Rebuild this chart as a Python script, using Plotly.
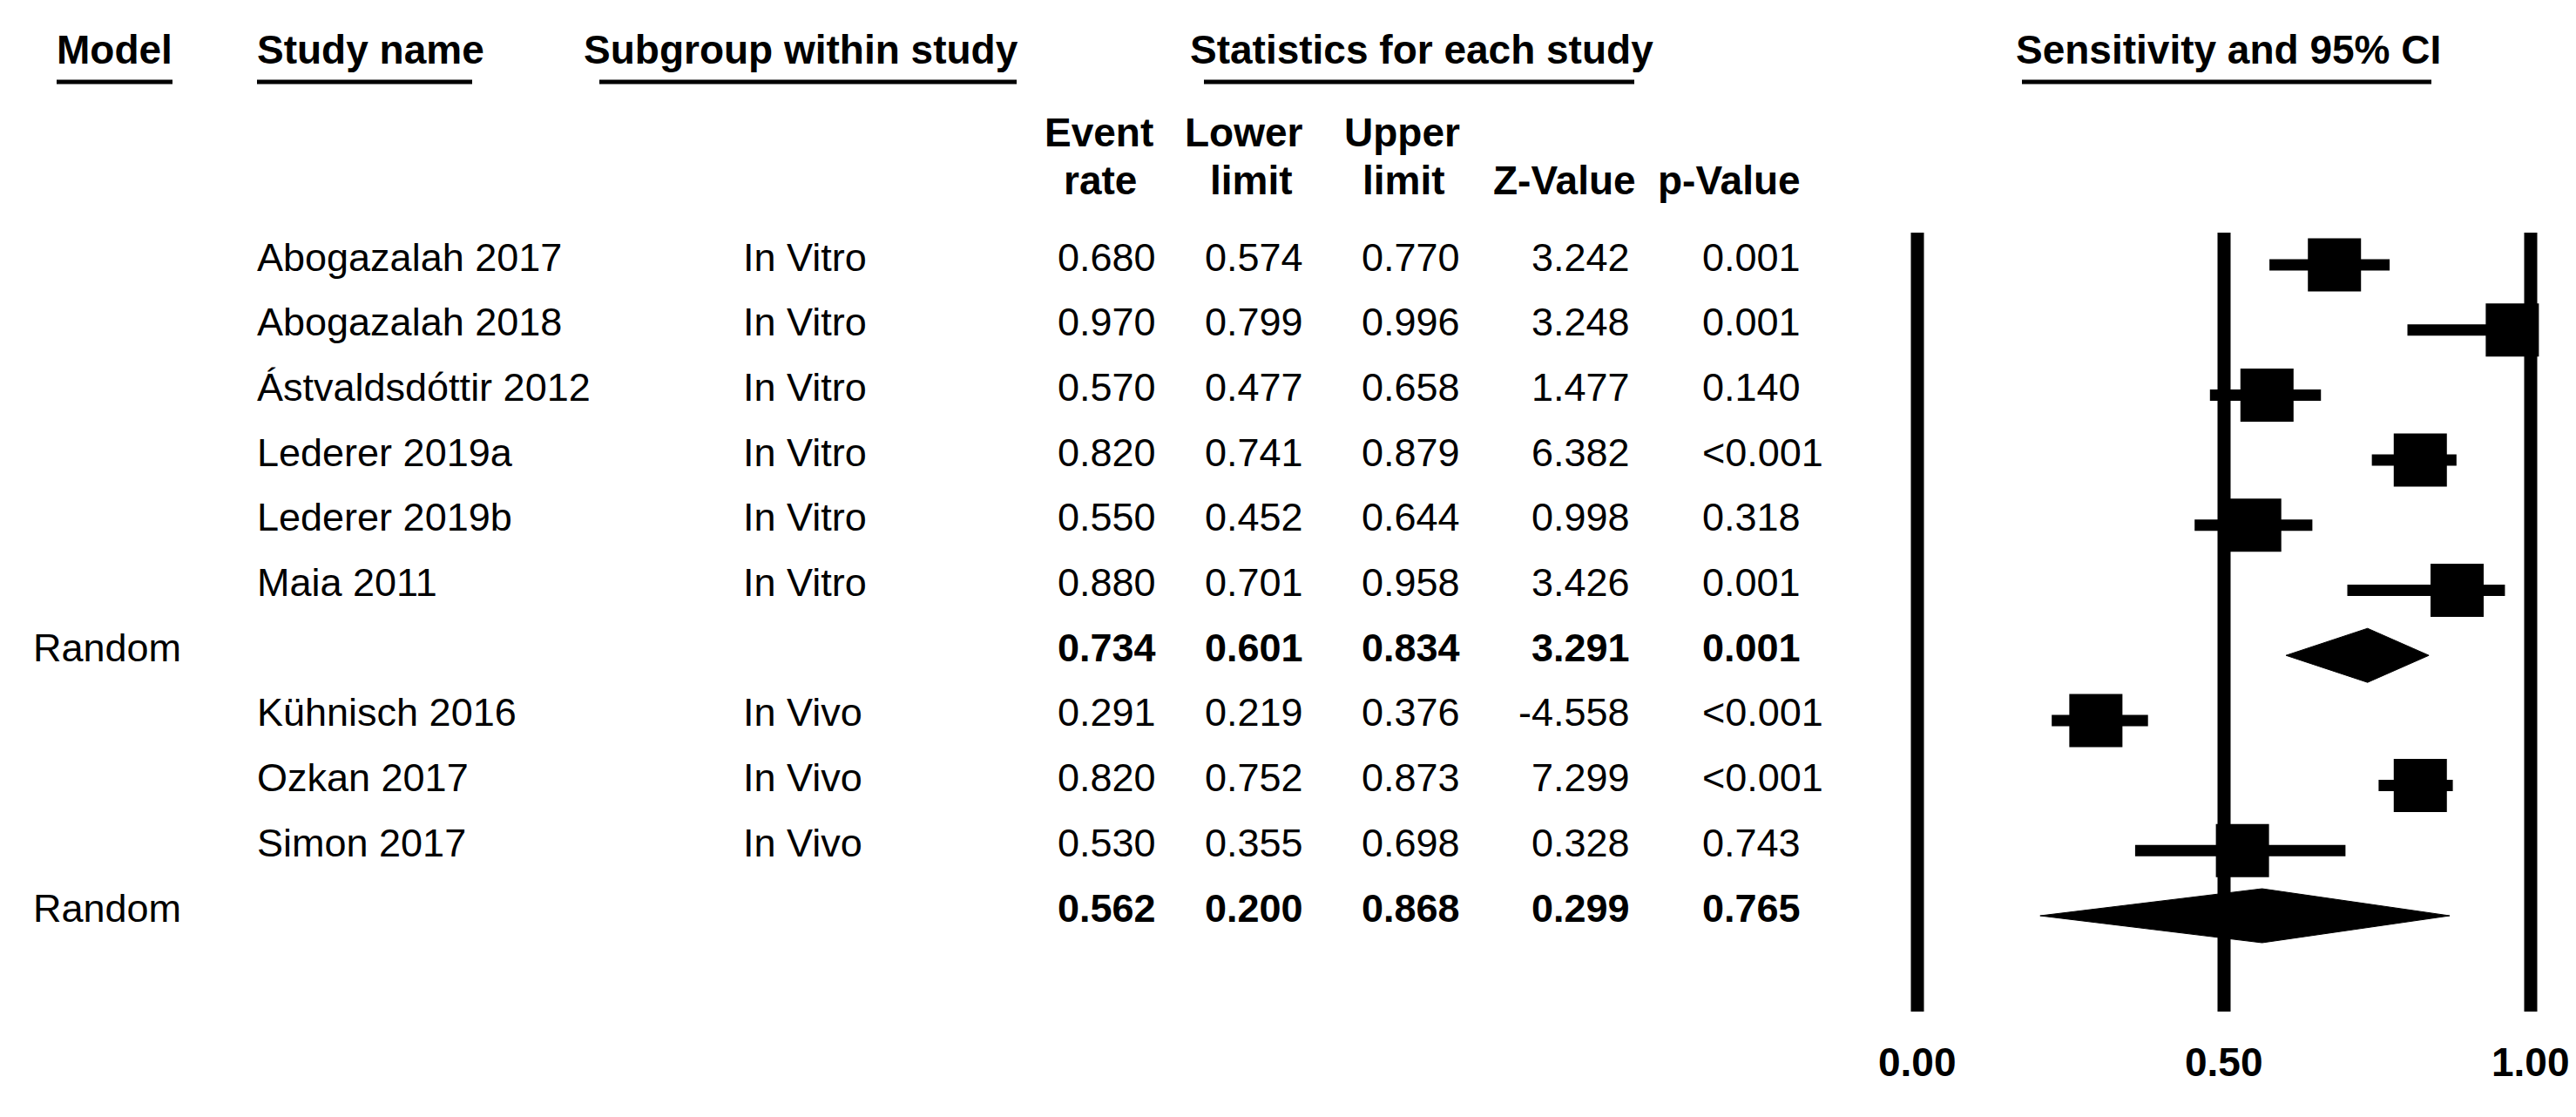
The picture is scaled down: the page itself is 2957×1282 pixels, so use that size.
import plotly.graph_objects as go

# ---------------- data ----------------
study_names = ["Abogazalah 2017", "Abogazalah 2018", "Ástvaldsdóttir 2012", "Lederer 2019a",
               "Lederer 2019b", "Maia 2011", "Kühnisch 2016", "Ozkan 2017", "Simon 2017"]
subgroups = ["In Vitro", "In Vitro", "In Vitro", "In Vitro", "In Vitro", "In Vitro",
             "In Vivo", "In Vivo", "In Vivo"]
study_rows = [0, 1, 2, 3, 4, 5, 7, 8, 9]
event_rate = [0.680, 0.970, 0.570, 0.820, 0.550, 0.880, 0.291, 0.820, 0.530]
lower_limit = [0.574, 0.799, 0.477, 0.741, 0.452, 0.701, 0.219, 0.752, 0.355]
upper_limit = [0.770, 0.996, 0.658, 0.879, 0.644, 0.958, 0.376, 0.873, 0.698]
z_value = [3.242, 3.248, 1.477, 6.382, 0.998, 3.426, -4.558, 7.299, 0.328]
p_value = ["0.001", "0.001", "0.140", "<0.001", "0.318", "0.001", "<0.001", "<0.001", "0.743"]

summary_model = ["Random", "Random"]
summary_rows = [6, 10]
summary_rate = [0.734, 0.562]
summary_lower = [0.601, 0.200]
summary_upper = [0.834, 0.868]
summary_z = [3.291, 0.299]
summary_p = ["0.001", "0.765"]

tick_vals = [0.0, 0.5, 1.0]

# ---------------- layout constants ----------------
W, H = 2957, 1282
ROW0_PX, ROW_STEP = 296, 74.7
FONT = "Arial, Liberation Sans, sans-serif"
FS = 45
X0_PX, X1_PX = 2193, 2897          # pixel positions of 0 and 1 on the forest axis
DOM_L, DOM_R = 2150, 2940
PPU = X1_PX - X0_PX
TEXT_DY = 9                         # raise text so cap-centres sit on the row


def px_to_row(p):
    return (p - ROW0_PX) / ROW_STEP


def pfx(px):
    return px / W


def pfy(py):
    return 1 - (py - TEXT_DY) / H


fig = go.Figure()

# CI lines + squares for each study
fig.add_trace(go.Scatter(
    x=event_rate, y=study_rows, mode="markers",
    marker=dict(symbol="square", size=61, color="black", line=dict(width=0)),
    error_x=dict(type="data", symmetric=False,
                 array=[u - e for u, e in zip(upper_limit, event_rate)],
                 arrayminus=[e - l for e, l in zip(event_rate, lower_limit)],
                 color="black", thickness=13, width=0),
    cliponaxis=False, showlegend=False, hoverinfo="skip",
))

# summary diamonds
DH = 31 / ROW_STEP
for r, e, lo, hi in zip(summary_rows, summary_rate, summary_lower, summary_upper):
    fig.add_trace(go.Scatter(
        x=[lo, e, hi, e, lo], y=[r, r - DH, r, r + DH, r],
        mode="lines", fill="toself", fillcolor="black",
        line=dict(color="black", width=1), cliponaxis=False,
        showlegend=False, hoverinfo="skip",
    ))

# vertical reference lines at tick values
line_top, line_bot = px_to_row(259), px_to_row(1153)
for v in tick_vals:
    fig.add_shape(type="line", xref="x", yref="y", x0=v, x1=v, y0=line_top, y1=line_bot,
                  line=dict(color="black", width=15), layer="below")

ann = []
ROW_DY = TEXT_DY / ROW_STEP


def add_text(x_px, y, text, anchor="left", bold=False, yref="y", size=FS):
    if yref == "y":
        y = y - ROW_DY
    ann.append(dict(
        x=pfx(x_px), xref="paper", y=y, yref=yref,
        text=f"<b>{text}</b>" if bold else text,
        showarrow=False, xanchor=anchor, yanchor="middle",
        font=dict(family=FONT, size=size, color="black"),
    ))


# tick labels
for v in tick_vals:
    add_text(X0_PX + v * PPU, pfy(1220), f"{v:.2f}", anchor="center", bold=True, yref="paper", size=46)

# headers
HY = pfy(58)
add_text(55, HY, "Model", bold=True, yref="paper", size=46)
add_text(285, HY, "Study name", bold=True, yref="paper", size=46)
add_text(660, HY, "Subgroup within study", bold=True, yref="paper", size=46)
add_text(1624, HY, "Statistics for each study", anchor="center", bold=True, yref="paper", size=46)
add_text(2550, HY, "Sensitivity and 95% CI", anchor="center", bold=True, yref="paper", size=46)

underlines = [(57, 190), (287, 534), (680, 1159), (1374, 1868), (2313, 2783)]
for a, b in underlines:
    fig.add_shape(type="line", xref="paper", yref="paper", x0=pfx(a), x1=pfx(b),
                  y0=1 - 86 / H, y1=1 - 86 / H, line=dict(color="black", width=5))

L1, L2 = pfy(153), pfy(208)
add_text(1253, L1, "Event", anchor="center", bold=True, yref="paper", size=46)
add_text(1255, L2, "rate", anchor="center", bold=True, yref="paper", size=46)
add_text(1420, L1, "Lower", anchor="center", bold=True, yref="paper", size=46)
add_text(1428, L2, "limit", anchor="center", bold=True, yref="paper", size=46)
add_text(1601, L1, "Upper", anchor="center", bold=True, yref="paper", size=46)
add_text(1603, L2, "limit", anchor="center", bold=True, yref="paper", size=46)
add_text(1788, L2, "Z-Value", anchor="center", bold=True, yref="paper", size=46)
add_text(1977, L2, "p-Value", anchor="center", bold=True, yref="paper", size=46)

COL_RATE, COL_LO, COL_HI, COL_Z, COL_P = 1321, 1490, 1670, 1865, 1944

# study rows
for r, name, sg, e, lo, hi, z, p in zip(study_rows, study_names, subgroups, event_rate,
                                       lower_limit, upper_limit, z_value, p_value):
    add_text(285, r, name)
    add_text(843, r, sg)
    add_text(COL_RATE, r, f"{e:.3f}", anchor="right")
    add_text(COL_LO, r, f"{lo:.3f}", anchor="right")
    add_text(COL_HI, r, f"{hi:.3f}", anchor="right")
    add_text(COL_Z, r, f"{z:.3f}", anchor="right")
    add_text(COL_P, r, p)

# summary rows
for r, m, e, lo, hi, z, p in zip(summary_rows, summary_model, summary_rate, summary_lower,
                                 summary_upper, summary_z, summary_p):
    add_text(28, r, m)
    add_text(COL_RATE, r, f"{e:.3f}", anchor="right", bold=True)
    add_text(COL_LO, r, f"{lo:.3f}", anchor="right", bold=True)
    add_text(COL_HI, r, f"{hi:.3f}", anchor="right", bold=True)
    add_text(COL_Z, r, f"{z:.3f}", anchor="right", bold=True)
    add_text(COL_P, r, p, bold=True)

fig.update_layout(
    width=W, height=H,
    margin=dict(l=0, r=0, t=0, b=0),
    paper_bgcolor="white", plot_bgcolor="white",
    xaxis=dict(domain=[DOM_L / W, DOM_R / W],
               range=[(DOM_L - X0_PX) / PPU, (DOM_R - X0_PX) / PPU],
               visible=False, showgrid=False, zeroline=False),
    yaxis=dict(domain=[0, 1], range=[px_to_row(H), px_to_row(0)],
               visible=False, showgrid=False, zeroline=False),
    annotations=ann,
    font=dict(family=FONT, color="black"),
)

fig.write_html("out.html")
